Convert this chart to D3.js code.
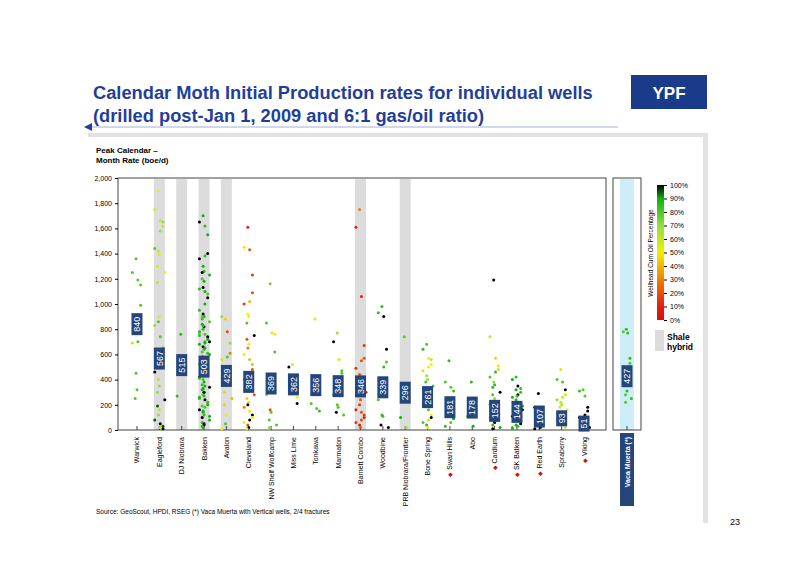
<!DOCTYPE html><html><head><meta charset="utf-8"><script src="https://cdn.jsdelivr.net/npm/d3@7"></script>
<style>body{margin:0;background:#fff}text{font-family:Arial,"Liberation Sans",sans-serif}</style></head><body><svg id="c" width="800" height="566"></svg>
<script>
const categories=["Warwick","Eagleford","DJ Niobrara","Bakken","Avalon","Cleveland","NW Shelf Wolfcamp","Miss Lime","Tonkawa","Marmaton","Barnett Combo","Woodbine","PRB Niobrara/Frontier","Bone Spring","Swan Hills","Abo","Cardium","SK Batken","Red Earth","Spraberry","Viking"];
const medians=[840,567,515,503,429,382,369,362,356,348,346,339,296,261,181,178,152,144,107,93,51];
const shale=["Eagleford","DJ Niobrara","Bakken","Avalon","Barnett Combo","PRB Niobrara/Frontier"];
const starred=["Swan Hills","Cardium","SK Batken","Red Earth","Viking"];
const yTicks=[0,200,400,600,800,1000,1200,1400,1600,1800,2000];
const legendTicks=[0,10,20,30,40,50,60,70,80,90,100];
const vacaMedian=427;
// wells: [peak rate, oil %]
const wells={
"Warwick":[[1360,80],[1250,80],[1190,80],[1150,80],[990,80],[700,80],[690,60],[450,80],[320,80],[250,80]],
"Eagleford":[[1900,50],[1750,55],[1660,60],[1650,70],[1620,60],[1580,70],[1440,80],[1420,60],[1390,55],[1300,55],[1250,50],[1170,60],[900,55],[860,80],[830,70],[740,80],[650,80],[600,50],[500,95],[460,100],[400,60],[350,70],[300,70],[240,100],[190,95],[160,60],[120,70],[80,95],[50,100],[30,95],[10,100],[20,60]],
"DJ Niobrara":[[760,85],[270,85]],
"Bakken":[[1700,90],[1650,100],[1620,85],[1550,90],[1400,100],[1380,85],[1360,100],[1300,90],[1260,85],[1250,100],[1230,90],[1200,80],[1180,90],[1130,100],[1120,85],[1100,90],[1080,80],[1050,100],[1000,90],[950,85],[920,100],[900,90],[880,85],[860,80],[840,90],[820,100],[800,85],[780,90],[760,80],[740,100],[720,90],[700,85],[680,90],[660,100],[640,85],[620,80],[600,90],[580,100],[560,85],[540,90],[520,80],[500,100],[480,90],[460,85],[440,90],[420,100],[400,80],[380,90],[360,85],[340,100],[320,90],[300,85],[280,80],[260,90],[240,100],[220,85],[200,90],[180,80],[160,100],[140,90],[120,85],[100,100],[80,90],[60,85],[40,100],[20,90],[750,85],[650,90],[550,85],[450,80],[350,90],[250,85],[150,90],[50,100],[900,80],[700,100],[500,85],[300,100],[830,85],[770,80],[690,90],[610,85],[530,90],[470,80],[410,85],[330,90],[270,85],[190,80],[110,90],[30,85]],
"Avalon":[[880,45],[900,70],[780,20],[690,70],[610,30],[580,80],[560,60],[450,50],[360,50],[300,45],[250,40],[200,45],[120,50],[50,80],[10,50]],
"Cleveland":[[1610,10],[1450,50],[1430,20],[1230,15],[1090,20],[1020,40],[1000,15],[920,50],[900,50],[850,80],[750,100],[720,20],[680,50],[650,30],[600,50],[560,40],[520,70],[480,20],[450,55],[400,45],[380,80],[350,30],[320,50],[280,20],[250,45],[220,55],[200,100],[180,30],[150,55],[120,100],[100,50],[80,100],[60,50],[40,20],[20,100],[10,50]],
"NW Shelf Wolfcamp":[[1160,75],[850,80],[770,55],[760,50],[620,80],[300,80],[280,70],[160,20],[140,80],[80,80],[40,80],[20,70]],
"Miss Lime":[[520,55],[500,100],[300,80],[260,50],[210,100]],
"Tonkawa":[[880,55],[210,80],[170,80],[150,85]],
"Marmaton":[[770,70],[700,100],[560,55],[470,80],[450,80],[380,80],[280,80],[200,80],[180,80],[140,100],[120,80]],
"Barnett Combo":[[1750,30],[1610,10],[1060,10],[670,15],[570,20],[550,20],[490,15],[440,20],[420,30],[360,15],[300,10],[280,10],[240,20],[200,15],[160,10],[140,20],[120,15],[100,10],[80,20],[60,15],[40,10],[20,20]],
"Woodbine":[[980,85],[930,85],[900,100],[640,100],[540,80],[500,85],[240,80],[120,85],[110,85],[40,100],[20,100]],
"PRB Niobrara/Frontier":[[740,80],[100,90],[20,70]],
"Bone Spring":[[680,80],[640,85],[570,50],[560,60],[520,50],[500,50],[470,60],[430,70],[400,70],[380,80],[350,80],[290,70],[260,60],[220,50],[200,70],[160,80],[120,50],[100,100],[80,60],[60,80],[40,85],[20,50]],
"Swan Hills":[[550,85],[380,80],[340,80],[310,85],[90,90],[60,80],[30,85]],
"Abo":[[380,85],[110,80],[30,90]],
"Cardium":[[1190,100],[740,60],[570,45],[510,50],[480,60],[460,85],[420,80],[380,70],[360,85],[340,85],[300,100],[280,80],[250,70],[230,60],[200,80],[180,100],[160,50],[140,85],[120,100],[100,50],[80,90],[60,100],[40,85],[20,90],[10,100]],
"SK Batken":[[420,85],[400,90],[350,100],[330,85],[300,85],[280,100],[260,90],[240,85],[220,100],[200,85],[190,90],[170,100],[150,85],[130,90],[110,100],[90,85],[70,90],[50,100],[30,85],[10,90],[320,90],[270,85],[210,90],[160,100],[120,85],[80,100],[40,90],[20,85]],
"Red Earth":[[290,100],[180,100],[80,100],[60,100],[40,100],[20,100],[10,100]],
"Spraberry":[[480,55],[400,80],[380,80],[320,100],[280,55],[260,60],[240,70],[220,60],[200,65],[180,55],[160,50],[140,60],[120,65],[100,55],[80,60],[60,65],[40,55],[20,60]],
"Viking":[[320,80],[310,85],[270,80],[180,100],[150,100],[120,100],[100,100],[80,95],[60,100],[40,100],[20,100],[10,100]]
};
const vaca=[[800,85],[780,80],[770,85],[570,85],[530,80],[480,80],[460,85],[400,80],[310,85],[280,80],[250,85],[220,80]];

const svg=d3.select("#c");
const navy="#24467a";
const color=d3.scaleLinear().domain([0,10,30,50,70,90,100]).range(["#d41010","#e02010","#f08000","#f0f000","#90e040","#10b010","#000000"]);
const y=d3.scaleLinear().domain([0,2000]).range([430,178]);
const x=d3.scaleBand().domain(categories).range([125.8,595.2]);
const xv=d3.scaleBand().domain(["Vaca Muerta (*)"]).range([616,638]);

svg.append("text").attr("x",93).attr("y",99).attr("fill","#1f3f99").attr("font-size",18.3).attr("font-weight","bold").text("Calendar Moth  Initial Production rates for individual wells");
svg.append("text").attr("x",93).attr("y",122).attr("fill","#1f3f99").attr("font-size",18.3).attr("font-weight","bold").text("(drilled post-Jan 1, 2009 and 6:1 gas/oil ratio)");
svg.append("line").attr("x1",92).attr("x2",618).attr("y1",127).attr("y2",127).attr("stroke","#8aa0c8").attr("stroke-width",0.8);
svg.append("path").attr("d","M84,127 L92,123 L92,131Z").attr("fill","#1f3f99");
svg.append("rect").attr("x",631).attr("y",75).attr("width",76).attr("height",34).attr("fill","#1a3a8a");
svg.append("text").attr("x",669).attr("y",99).attr("text-anchor","middle").attr("fill","#fff").attr("font-size",17).attr("font-weight","900").text("YPF");
svg.append("rect").attr("x",88).attr("y",133).attr("width",620).attr("height",4).attr("fill","#e2e2e2");
svg.append("rect").attr("x",703).attr("y",133).attr("width",5).attr("height",390).attr("fill","#e2e2e2");

svg.append("text").attr("x",96).attr("y",153).attr("font-size",8).attr("font-weight","bold").text("Peak Calendar –");
svg.append("text").attr("x",96).attr("y",163).attr("font-size",8).attr("font-weight","bold").text("Month Rate (boe/d)");

svg.selectAll(".sb").data(shale).join("rect").attr("x",d=>x(d)+x.bandwidth()/2-5.5).attr("width",11).attr("y",179).attr("height",251).attr("fill","#dcdcdc");
svg.append("rect").attr("x",xv("Vaca Muerta (*)")+xv.bandwidth()/2-7).attr("width",14).attr("y",179).attr("height",251).attr("fill","#cdeef8");

svg.append("rect").attr("x",118).attr("y",178).attr("width",488).attr("height",252).attr("fill","none").attr("stroke","#444");
svg.append("rect").attr("x",613).attr("y",178).attr("width",28).attr("height",252).attr("fill","none").attr("stroke","#444");

const ya=svg.append("g").attr("transform","translate(118,0)").call(d3.axisLeft(y).tickValues(yTicks).tickSize(3).tickFormat(d3.format(",")));
ya.select(".domain").remove();
ya.selectAll("text").attr("font-size",7);
svg.selectAll(".xt").data(categories).join("line").attr("x1",d=>x(d)+x.bandwidth()/2).attr("x2",d=>x(d)+x.bandwidth()/2).attr("y1",426).attr("y2",430).attr("stroke","#444");
svg.append("line").attr("x1",627).attr("x2",627).attr("y1",426).attr("y2",430).attr("stroke","#444");

// deterministic scatter offsets
const jit=i=>(((i*i*31+i*17+5)%13)-6)/6*5.5;
categories.forEach(c=>{
  const cx=x(c)+x.bandwidth()/2;
  svg.append("g").selectAll("circle").data(wells[c]).join("circle")
    .attr("cx",(d,i)=>cx+jit(i)).attr("cy",d=>y(d[0])).attr("r",1.5).attr("fill",d=>color(d[1]));
});
const vcx=xv("Vaca Muerta (*)")+xv.bandwidth()/2;
svg.append("g").selectAll("circle").data(vaca).join("circle").attr("cx",(d,i)=>vcx+jit(i)*0.8).attr("cy",d=>y(d[0])).attr("r",1.5).attr("fill",d=>color(d[1]));

function medLabel(cx,v){
  const s=String(v), h=s.length*6+4;
  svg.append("rect").attr("x",cx-5.5).attr("y",y(v)-h/2).attr("width",11).attr("height",h).attr("fill",navy);
  svg.append("text").attr("transform",`translate(${cx+3.2},${y(v)}) rotate(-90)`).attr("text-anchor","middle").attr("fill","#fff").attr("font-size",9).text(s);
}
categories.forEach((c,i)=>medLabel(x(c)+x.bandwidth()/2,medians[i]));
medLabel(vcx,vacaMedian);

categories.forEach(c=>{
  const cx=x(c)+x.bandwidth()/2;
  const g=svg.append("g").attr("transform",`translate(${cx+2.5},437) rotate(-90)`);
  const t=g.append("text").attr("text-anchor","end").attr("font-size",7).text(c);
  if(starred.includes(c)){
    const w=t.node().getComputedTextLength()+2;
    g.append("text").attr("x",-w).attr("text-anchor","end").attr("font-size",6).attr("fill","#d01010").text("◆");
  }
});
svg.append("rect").attr("x",620).attr("y",433).attr("width",14).attr("height",73).attr("fill",navy);
svg.append("text").attr("transform",`translate(${vcx+3},437) rotate(-90)`).attr("text-anchor","end").attr("fill","#fff").attr("font-size",7).attr("font-weight","bold").text("Vaca Muerta (*)");

const ly=d3.scaleLinear().domain([0,100]).range([320,185]);
const defs=svg.append("defs");
const gr=defs.append("linearGradient").attr("id","lg").attr("x1",0).attr("x2",0).attr("y1",1).attr("y2",0);
[0,10,30,50,70,90,100].forEach(v=>gr.append("stop").attr("offset",v/100).attr("stop-color",color(v)));
svg.append("rect").attr("x",657).attr("y",185).attr("width",7).attr("height",135).attr("fill","url(#lg)");
const la=svg.append("g").attr("transform","translate(664,0)").call(d3.axisRight(ly).tickValues(legendTicks).tickSize(3).tickFormat(d=>d+"%"));
la.select(".domain").remove();la.selectAll("text").attr("font-size",7);
svg.append("text").attr("transform","translate(653,253) rotate(-90)").attr("text-anchor","middle").attr("font-size",6.5).text("Wellhead Cum Oil Percentage");
svg.append("rect").attr("x",655).attr("y",330).attr("width",9).attr("height",21).attr("fill","#dcdcdc");
svg.append("text").attr("x",667).attr("y",340).attr("font-size",8.5).attr("font-weight","bold").text("Shale");
svg.append("text").attr("x",667).attr("y",350).attr("font-size",8.5).attr("font-weight","bold").text("hybrid");

svg.append("text").attr("x",96).attr("y",514).attr("font-size",6.5).text("Source: GeoScout, HPDI, RSEG        (*)  Vaca Muerta with Vertical wells, 2/4 fractures");
svg.append("text").attr("x",735).attr("y",525).attr("font-size",9).attr("text-anchor","middle").text("23");
</script></body></html>
